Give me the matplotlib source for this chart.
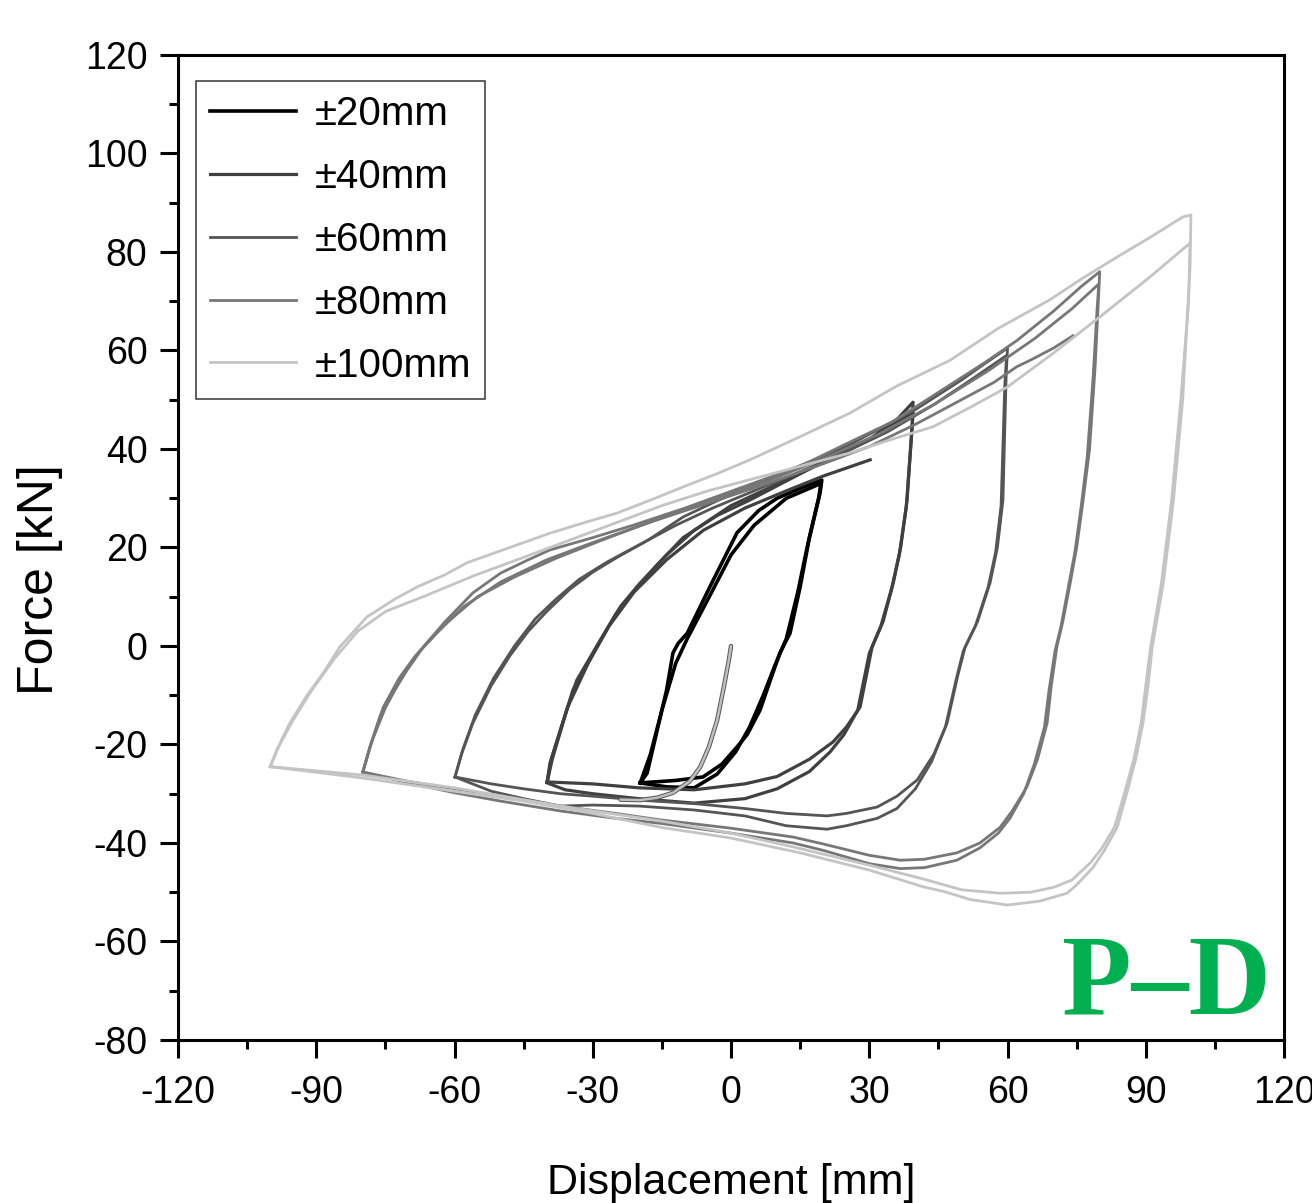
import matplotlib
matplotlib.use('Agg')
import matplotlib.pyplot as plt
from matplotlib.ticker import MultipleLocator

plt.rcParams['font.family'] = ['Liberation Sans', 'DejaVu Sans']
plt.rcParams['axes.unicode_minus'] = False

# ---- data: displacement [mm], force [kN] ----
# +-20 mm, two cycles
d20_a = [-19.7, -18.2, -16.0, -14.0, -12.6, -11.5, -9.5, -4.6, 1.3, 6.0, 10.0, 15.0, 19.7,
         19.3, 17.0, 15.0, 12.8, 10.6, 8.5, 6.3, 3.5, 1.3, -2.0, -6.1, -12.0, -19.7]
f20_a = [-27.8, -25.8, -17.0, -9.0, -1.4, 0.5, 2.6, 12.0, 23.0, 27.5, 30.0, 32.0, 33.7,
         31.0, 22.0, 12.0, 2.6, -1.4, -7.0, -13.0, -18.0, -20.5, -24.0, -26.6, -27.3, -27.8]
d20_b = [-19.7, -17.5, -15.0, -12.0, -9.5, -5.0, 0.0, 5.0, 12.0, 19.5,
         19.0, 16.5, 14.5, 12.0, 9.5, 7.0, 4.0, 1.0, -3.0, -8.0, -14.0, -19.7]
f20_b = [-27.8, -22.0, -13.0, -3.5, 1.5, 9.5, 18.5, 24.5, 30.0, 33.0,
         30.0, 20.0, 11.0, 1.5, -4.0, -10.0, -16.5, -21.5, -26.0, -28.8, -28.6, -27.8]

# +-40 mm
d40_a = [-39.9, -39.3, -37.0, -34.3, -29.5, -25.0, -21.3, -16.0, -10.4, -3.0, 4.0, 12.0, 20.0, 30.0, 36.0, 39.5,
         39.3, 38.2, 36.8, 35.2, 33.0, 30.6, 28.0, 25.0, 22.1, 17.0, 10.0, 3.0, -8.0, -20.0, -30.0, -39.9]
f40_a = [-27.6, -23.8, -17.0, -8.9, -0.8, 6.5, 10.8, 16.5, 22.0, 26.5, 29.6, 33.5, 37.4, 42.0, 46.0, 49.5,
         45.0, 29.6, 20.0, 12.8, 5.0, -0.2, -12.4, -16.5, -19.5, -23.0, -26.5, -28.0, -29.2, -28.8, -28.0, -27.6]
d40_b = [-39.9, -39.0, -36.5, -33.5, -28.5, -24.0, -20.0, -14.0, -8.0, 0.0, 8.0, 16.0, 25.0, 33.0, 39.5,
         39.2, 38.0, 36.5, 34.8, 32.5, 30.0, 27.5, 24.5, 21.5, 17.0, 10.0, 3.0, -8.0, -20.0, -30.0, -36.0, -39.9]
f40_b = [-27.6, -23.0, -15.5, -7.0, 1.0, 8.0, 12.5, 18.5, 23.5, 28.5, 32.0, 35.5, 39.5, 43.5, 47.5,
         43.0, 28.0, 18.5, 11.5, 4.0, -1.5, -13.0, -18.0, -21.5, -25.5, -29.0, -31.0, -31.9, -31.0, -30.0, -29.2, -27.8]
d40_tail = [-39.9, -38.8, -35.5, -31.0, -26.5, -21.0, -14.0, -6.0, 3.0, 12.0, 20.0, 30.2]
f40_tail = [-27.6, -23.0, -12.5, -3.5, 4.0, 11.0, 17.5, 23.5, 28.0, 31.5, 34.5, 37.8]

# +-60 mm
d60_a = [-59.9, -58.5, -56.0, -52.0, -48.0, -44.0, -40.0, -35.0, -30.0, -24.7, -18.0, -10.4, -3.0, 4.1, 12.0, 20.0,
         26.0, 33.0, 40.0, 45.0, 50.0, 55.0, 60.0,
         59.7, 59.0, 57.8, 56.2, 53.5, 50.8, 49.2, 46.9, 44.0, 40.4, 36.0, 31.7, 25.0, 20.8, 12.0, 3.0, -8.0,
         -20.0, -30.0, -37.0, -45.0, -52.0, -59.9]
f60_a = [-26.6, -22.0, -15.6, -8.0, -2.0, 3.0, 7.0, 11.5, 15.0, 18.0, 21.5, 26.2, 29.5, 32.3, 35.5, 38.5,
         41.0, 44.5, 48.0, 51.0, 54.0, 57.3, 60.5,
         55.0, 29.6, 20.0, 12.8, 5.0, -0.2, -6.0, -15.6, -22.0, -27.2, -30.5, -32.7, -34.0, -34.5, -34.0, -33.0, -32.0,
         -31.3, -30.5, -30.0, -29.0, -28.0, -26.6]
d60_b = [-59.9, -58.2, -55.5, -51.5, -47.0, -42.5, -38.0, -33.0, -27.0, -20.0, -12.0, -4.0, 5.0, 14.0, 24.0,
         34.0, 44.0, 52.0, 59.8,
         59.4, 58.6, 57.4, 55.8, 53.0, 50.4, 48.8, 46.5, 43.5, 40.0, 36.0, 31.7, 25.0, 20.8, 12.0, 3.0, -8.0,
         -20.0, -30.0, -37.0, -45.0, -52.0, -59.9]
f60_b = [-26.6, -21.0, -14.0, -6.5, 0.0, 5.5, 9.5, 13.5, 17.0, 20.5, 24.5, 28.0, 31.5, 35.0, 39.0,
         43.5, 49.0, 54.0, 59.0,
         53.0, 28.5, 19.0, 12.0, 4.0, -1.0, -7.0, -16.5, -23.5, -29.0, -33.0, -35.0, -36.5, -37.2, -36.5, -34.5, -33.3,
         -32.5, -32.3, -32.5, -31.0, -29.5, -26.6]

# +-80 mm
d80_a = [-79.9, -78.5, -76.2, -73.0, -70.3, -66.8, -62.0, -56.0, -50.0, -44.0, -39.3, -30.0, -21.3, -10.0, 4.1, 15.0,
         26.0, 35.0, 45.0, 55.0, 62.0, 70.0, 76.0, 80.0,
         79.7, 79.0, 77.8, 76.4, 75.0, 73.6, 72.0, 70.7, 69.5, 68.6, 66.5, 64.2, 61.0, 58.4, 54.0, 49.0, 42.0, 36.7,
         30.0, 20.0, 13.5, 0.0, -15.4, -25.0, -37.0, -50.0, -60.0, -70.0, -79.9]
f80_a = [-25.6, -21.0, -14.4, -9.0, -4.9, -0.2, 5.0, 10.8, 14.8, 17.5, 19.5, 22.0, 24.5, 28.0, 32.8, 36.5,
         41.5, 45.5, 51.5, 57.5, 62.0, 68.0, 73.0, 76.0,
         70.0, 56.6, 40.0, 29.6, 20.0, 12.8, 5.0, -0.2, -8.0, -15.6, -23.0, -28.6, -33.5, -36.8, -40.0, -42.0, -43.3, -43.5,
         -42.5, -40.2, -38.8, -37.0, -35.3, -34.0, -32.5, -30.5, -29.0, -27.5, -25.6]
d80_b = [-79.9, -78.2, -75.5, -72.0, -68.5, -64.0, -58.0, -50.0, -40.0, -30.0, -18.0, -5.0, 8.0, 20.0, 32.0,
         44.0, 56.0, 66.0, 74.0, 79.8,
         79.4, 78.6, 77.3, 76.0, 74.6, 73.2, 71.6, 70.3, 69.0, 68.0, 65.8, 63.5, 60.5, 58.0, 54.0, 49.0, 42.0, 36.7,
         30.0, 20.0, 13.5, 0.0, -15.4, -25.0, -37.0, -50.0, -60.0, -70.0, -79.9]
f80_b = [-25.6, -20.0, -12.5, -6.5, -2.0, 2.5, 8.0, 13.0, 17.5, 21.0, 25.0, 29.5, 33.5, 38.0, 43.0,
         49.0, 56.0, 62.5, 68.5, 73.5,
         68.0, 55.0, 38.5, 28.5, 19.0, 12.0, 4.0, -1.0, -9.0, -16.5, -24.0, -30.0, -35.0, -38.0, -41.0, -43.5, -45.0, -45.2,
         -44.2, -41.5, -40.0, -38.0, -36.0, -35.0, -33.5, -31.5, -29.8, -27.8, -25.6]
d80_tail = [-79.9, -78.0, -75.0, -71.0, -67.5, -62.0, -55.0, -47.0, -38.0, -28.0, -18.0, -5.0, 8.0, 20.0, 30.0,
            40.0, 50.0, 57.0, 62.0, 64.9, 70.0, 74.2]
f80_tail = [-25.6, -19.5, -12.5, -5.5, -1.0, 4.5, 10.0, 14.0, 17.8, 21.5, 25.0, 29.0, 33.0, 37.0, 40.5,
            45.0, 50.0, 53.5, 56.7, 58.0, 60.5, 63.0]

# +-100 mm
d100_a = [-100.0, -99.4, -97.5, -95.7, -92.0, -88.5, -84.9, -79.0, -73.0, -68.1, -62.0, -57.3, -48.0, -39.3, -32.0,
          -24.7, -17.0, -10.4, -3.0, 4.1, 15.0, 25.8, 36.0, 47.5, 58.0, 69.2, 76.0, 83.8, 91.0, 98.0, 99.8,
          99.7, 99.6, 98.0, 96.0, 93.8, 91.4, 90.5, 89.4, 87.8, 85.9, 83.8, 81.0, 78.6, 75.0, 72.9, 67.0, 60.0, 52.0,
          46.0, 41.7, 30.0, 15.0, 0.0, -15.4, -30.0, -45.0, -60.0, -80.0, -100.0]
f100_a = [-24.5, -23.1, -19.0, -15.6, -10.0, -5.5, -0.2, 5.9, 9.5, 12.0, 14.5, 16.9, 20.0, 22.9, 25.0,
          27.0, 29.8, 32.3, 35.0, 37.8, 42.5, 47.3, 52.8, 58.0, 64.5, 70.3, 74.5, 79.0, 83.0, 87.1, 87.5,
          83.0, 77.0, 50.0, 29.6, 12.8, -0.2, -8.0, -15.6, -23.0, -29.8, -36.8, -41.5, -44.9, -48.5, -50.2, -51.8, -52.6,
          -51.5, -49.8, -48.9, -45.5, -42.0, -39.0, -36.8, -34.0, -31.5, -29.5, -26.8, -24.5]
d100_b = [-100.0, -98.5, -95.0, -91.0, -86.0, -81.0, -75.0, -66.8, -56.0, -45.0, -35.0, -25.0, -15.0, -5.0, 5.0,
          15.0, 25.8, 35.0, 43.8, 52.0, 60.0, 70.0, 80.0, 91.0, 99.6,
          99.3, 97.6, 95.6, 93.4, 91.0, 89.0, 87.4, 85.4, 83.2, 80.5, 78.0, 74.0, 70.0, 65.0, 58.4, 50.0, 41.7,
          30.0, 13.5, 0.0, -15.4, -37.0, -60.0, -80.0, -100.0]
f100_b = [-24.5, -21.0, -15.0, -9.0, -2.5, 3.0, 7.0, 10.0, 14.2, 18.0, 21.5, 25.0, 28.5, 31.5, 34.0,
          36.5, 39.2, 42.0, 44.5, 48.5, 52.6, 59.5, 66.8, 75.0, 81.8,
          70.0, 50.0, 29.6, 12.8, -0.5, -15.6, -23.0, -29.8, -36.8, -41.0, -44.0, -47.5, -49.0, -50.0, -50.2, -49.5, -47.3,
          -44.5, -40.8, -38.0, -35.5, -32.5, -28.8, -26.2, -24.5]

# initial loading from the origin
d0 = [0.0, -0.5, -1.5, -3.0, -4.8, -6.7, -9.0, -12.6, -16.0, -19.7, -24.0]
f0 = [0.0, -3.0, -8.0, -15.0, -20.5, -24.6, -27.5, -29.8, -30.8, -31.3, -31.2]

labels = ['±20mm', '±40mm', '±60mm', '±80mm', '±100mm']
colors = ['#000000', '#404040', '#555555', '#777777', '#c4c4c4']
widths = [2.6, 2.3, 2.0, 2.0, 2.0]

fig = plt.figure(figsize=(13.12, 12.03), dpi=100)
ax = fig.add_axes([0.1357, 0.1355, 0.843, 0.8188])

loops = [
    [(d20_a, f20_a), (d20_b, f20_b)],
    [(d40_a, f40_a), (d40_b, f40_b), (d40_tail, f40_tail)],
    [(d60_a, f60_a), (d60_b, f60_b)],
    [(d80_a, f80_a), (d80_b, f80_b), (d80_tail, f80_tail)],
    [(d100_a, f100_a), (d100_b, f100_b)],
]
for curves, lab, col, w in zip(loops, labels, colors, widths):
    for i, (d, f) in enumerate(curves):
        ax.plot(d, f, color=col, lw=w, solid_joinstyle='round',
                label=lab if i == 0 else None)

ax.plot(d0, f0, color='#555555', lw=3.2, solid_capstyle='round')
ax.plot(d0, f0, color='#c0c0c0', lw=1.8, solid_capstyle='round')

ax.set_xlim(-120, 120)
ax.set_ylim(-80, 120)
ax.xaxis.set_major_locator(MultipleLocator(30))
ax.xaxis.set_minor_locator(MultipleLocator(15))
ax.yaxis.set_major_locator(MultipleLocator(20))
ax.yaxis.set_minor_locator(MultipleLocator(10))
ax.tick_params(which='major', direction='out', length=13, width=2.2, labelsize=27, pad=9)
ax.tick_params(axis='x', which='major', pad=12)
ax.tick_params(which='minor', direction='out', length=6.5, width=2.2)
for s in ax.spines.values():
    s.set_linewidth(2.2)

ax.set_xlabel('Displacement [mm]', fontsize=31, labelpad=38)
ax.set_ylabel('Force [kN]', fontsize=36)
ax.yaxis.set_label_coords(-0.104, 0.467)

leg = ax.legend(loc='upper left', fontsize=29, frameon=True, fancybox=False,
                edgecolor='black', handlelength=2.15, handletextpad=0.45,
                labelspacing=0.62, borderpad=0.35, borderaxespad=0,
                bbox_to_anchor=(0.016, 0.974))
leg.get_frame().set_linewidth(1.1)

ax.text(0.894, 0.027, 'P–D', transform=ax.transAxes, ha='center', va='baseline',
        fontsize=82, fontweight='bold', color='#00b050', family='Liberation Serif')

fig.savefig('out.png', dpi=100)
